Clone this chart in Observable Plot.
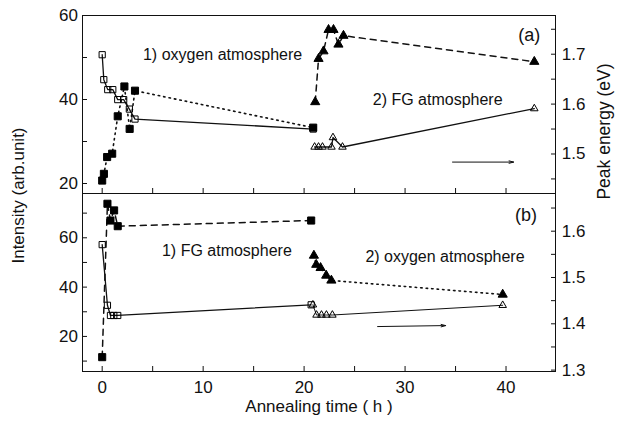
<!DOCTYPE html>
<html><head><meta charset="utf-8">
<script src="https://cdn.jsdelivr.net/npm/d3@7"></script>
<script src="https://cdn.jsdelivr.net/npm/@observablehq/plot@0.6"></script>
<style>
body{margin:0;background:#fff;}
#chart{position:relative;width:624px;height:432px;background:#fff;}
#chart svg{position:absolute;left:0;top:0;}
</style></head><body>
<div id="chart"></div>
<script>
// ---------- data ----------
const xTitle = "Annealing time ( h )";
const yLeftTitle = "Intensity (arb.unit)";
const yRightTitle = "Peak energy (eV)";
const timeTicks = [0, 10, 20, 30, 40];
const timeMinorTicks = [5, 15, 25, 35];
const timeDomain = [-1.95, 44.9];

// panel (a)
const aLeftDomain = [17.62, 60];
const aRightDomain = [1.4208, 1.7776];
const aLeftTicks = [20, 40, 60];
const aLeftMinor = [30, 50];
const aRightTicks = [1.5, 1.6, 1.7];
const aRightMinor = [1.45, 1.55, 1.65, 1.75];
const aFilledSqTime = [0, 0.17, 0.49, 0.99, 1.54, 2.2, 2.72, 3.25, 20.9];
const aFilledSqInt  = [20.7, 22.3, 26.3, 27.1, 36.0, 43.1, 33.0, 42.1, 33.3];
const aOpenSqTime   = [0, 0.16, 0.55, 1.05, 1.54, 2.13, 2.69, 3.25, 20.9];
const aOpenSqEnergy = [1.699, 1.649, 1.629, 1.629, 1.609, 1.609, 1.590, 1.570, 1.550];
const aFilledTriTime = [21.1, 21.43, 21.92, 22.42, 22.91, 23.4, 23.9, 42.8];
const aFilledTriInt  = [39.4, 49.7, 51.5, 56.6, 56.6, 53.1, 55.2, 49.0];
const aOpenTriTime   = [21.04, 21.43, 21.82, 22.71, 22.86, 23.8, 42.8];
const aOpenTriEnergy = [1.514, 1.514, 1.514, 1.514, 1.533, 1.514, 1.591];
const aLabels = ["1) oxygen atmosphere", "2) FG atmosphere", "(a)"];
const aLabelTime = [4.04, 26.8, 41.2];
const aLabelInt = [50.6, 39.9, 55.2];
const aArrowTime = [34.7, 40.75];
const aArrowInt = [25.1, 25.1];

// panel (b)
const bLeftDomain = [5.78, 77.96];
const bRightDomain = [1.297, 1.6814];
const bLeftTicks = [20, 40, 60];
const bLeftMinor = [10, 30, 50, 70];
const bRightTicks = [1.3, 1.4, 1.5, 1.6];
const bRightMinor = [1.35, 1.45, 1.55, 1.65];
const bFilledSqTime = [0, 0.52, 0.82, 1.18, 1.54, 20.7];
const bFilledSqInt  = [11.6, 73.8, 67.0, 71.1, 64.7, 67.0];
const bOpenSqTime   = [0, 0.52, 0.82, 1.15, 1.54, 20.7];
const bOpenSqEnergy = [1.571, 1.440, 1.418, 1.418, 1.418, 1.441];
const bFilledTriTime = [20.97, 21.2, 21.63, 22.19, 22.7, 39.67];
const bFilledTriInt  = [52.8, 49.1, 47.8, 44.7, 42.7, 37.0];
const bOpenTriTime   = [20.87, 21.23, 21.72, 22.21, 22.8, 39.67];
const bOpenTriEnergy = [1.441, 1.419, 1.419, 1.419, 1.419, 1.440];
const bLabels = ["1) FG atmosphere", "2) oxygen atmosphere", "(b)"];
const bLabelTime = [5.92, 26.07, 40.9];
const bLabelInt = [54.6, 52.1, 69.0];
const bArrowTime = [27.28, 34.02];
const bArrowInt = [24.0, 24.4];

// ---------- drawing ----------
const FONT = "'Liberation Sans', Arial, Helvetica, sans-serif";
const INK = "#111";

function panel(cfg) {
  const toLeft = d3.scaleLinear().domain(cfg.rightDomain).range(cfg.leftDomain);
  const marks = [];
  const rowsOf = s => s.t.map((t, i) => ({t, v: s.axis === "right" ? toLeft(s.v[i]) : s.v[i]}));
  for (const s of cfg.series) {
    marks.push(Plot.line(rowsOf(s), {x: "t", y: "v", stroke: INK, strokeWidth: s.w, strokeDasharray: s.dash}));
  }
  for (const s of cfg.series) {
    marks.push(Plot.dot(rowsOf(s), {x: "t", y: "v", symbol: s.symbol, r: s.r,
      fill: s.filled ? "#000" : "none", stroke: "#000", strokeWidth: 1}));
  }
  const labels = cfg.labels.map((text, i) => ({text, t: cfg.labelTime[i], v: cfg.labelInt[i], big: text.startsWith("(")}));
  marks.push(Plot.text(labels.filter(d => !d.big), {x: "t", y: "v", text: "text", textAnchor: "start", fontSize: 16, fill: INK}));
  marks.push(Plot.text(labels.filter(d => d.big), {x: "t", y: "v", text: "text", textAnchor: "start", fontSize: 18, fill: INK}));
  marks.push(Plot.arrow([0], {x1: () => cfg.arrowTime[0], x2: () => cfg.arrowTime[1],
    y1: () => cfg.arrowInt[0], y2: () => cfg.arrowInt[1], stroke: INK, strokeWidth: 1, headLength: 7, headAngle: 30}));
  // axes (ticks inward)
  marks.push(Plot.axisY(cfg.leftTicks, {anchor: "left", tickSize: -5, tickPadding: 9.5, label: null, tickFormat: d3.format("d")}));
  marks.push(Plot.axisY(cfg.leftMinor, {anchor: "left", tickSize: -5, tickFormat: () => "", label: null}));
  marks.push(Plot.axisY(cfg.rightTicks.map(toLeft), {anchor: "right", tickSize: -5, tickPadding: 11.3, label: null,
    tickFormat: d => toLeft.invert(d).toFixed(1)}));
  marks.push(Plot.axisY(cfg.rightMinor.map(toLeft), {anchor: "right", tickSize: -5, tickFormat: () => "", label: null}));
  marks.push(Plot.axisX(timeTicks, {anchor: "bottom", tickSize: -5, tickPadding: 14, label: null,
    tickFormat: cfg.xLabels ? d3.format("d") : () => ""}));
  marks.push(Plot.axisX(timeMinorTicks, {anchor: "bottom", tickSize: -5, tickFormat: () => "", label: null}));
  marks.push(Plot.frame({stroke: INK, strokeWidth: 1}));
  if (cfg.extra) marks.push(...cfg.extra);
  return Plot.plot({
    width: 624, height: 432,
    marginTop: cfg.top, marginBottom: 432 - cfg.bottom, marginLeft: 82, marginRight: 69,
    x: {domain: timeDomain},
    y: {domain: cfg.leftDomain},
    style: {background: "transparent", fontFamily: FONT, fontSize: "17px", color: INK, overflow: "visible"},
    marks
  });
}

const topPanel = panel({
  top: 15, bottom: 193,
  leftDomain: aLeftDomain, rightDomain: aRightDomain,
  leftTicks: aLeftTicks, leftMinor: aLeftMinor, rightTicks: aRightTicks, rightMinor: aRightMinor,
  series: [
    {t: aFilledSqTime, v: aFilledSqInt, axis: "left", symbol: "square", r: 4, filled: true, w: 1.6, dash: "1.5,4"},
    {t: aOpenSqTime, v: aOpenSqEnergy, axis: "right", symbol: "square", r: 3.5, filled: false, w: 1.3, dash: null},
    {t: aFilledTriTime, v: aFilledTriInt, axis: "left", symbol: "triangle", r: 3.4, filled: true, w: 1.5, dash: "6,5"},
    {t: aOpenTriTime, v: aOpenTriEnergy, axis: "right", symbol: "triangle", r: 2.8, filled: false, w: 1.3, dash: null}
  ],
  labels: aLabels, labelTime: aLabelTime, labelInt: aLabelInt,
  arrowTime: aArrowTime, arrowInt: aArrowInt,
  xLabels: false
});

const bottomPanel = panel({
  top: 193, bottom: 371,
  leftDomain: bLeftDomain, rightDomain: bRightDomain,
  leftTicks: bLeftTicks, leftMinor: bLeftMinor, rightTicks: bRightTicks, rightMinor: bRightMinor,
  series: [
    {t: bFilledSqTime, v: bFilledSqInt, axis: "left", symbol: "square", r: 4, filled: true, w: 1.5, dash: "6,5"},
    {t: bOpenSqTime, v: bOpenSqEnergy, axis: "right", symbol: "square", r: 3.5, filled: false, w: 1.3, dash: null},
    {t: bFilledTriTime, v: bFilledTriInt, axis: "left", symbol: "triangle", r: 3.4, filled: true, w: 1.6, dash: "1.5,4"},
    {t: bOpenTriTime, v: bOpenTriEnergy, axis: "right", symbol: "triangle", r: 2.8, filled: false, w: 1, dash: null}
  ],
  labels: bLabels, labelTime: bLabelTime, labelInt: bLabelInt,
  arrowTime: bArrowTime, arrowInt: bArrowInt,
  xLabels: true,
  extra: [
    Plot.text([xTitle], {frameAnchor: "bottom", dy: 40, text: d => d, fontSize: 17, fill: INK}),
    Plot.text([yLeftTitle], {frameAnchor: "left", dx: -64, dy: -87, rotate: -90, textAnchor: "middle", text: d => d, fontSize: 17, fill: INK}),
    Plot.text([yRightTitle], {frameAnchor: "right", dx: 49, dy: -151, rotate: -90, textAnchor: "middle", text: d => d, fontSize: 17.5, fill: INK})
  ]
});

const chart = document.getElementById("chart");
chart.appendChild(topPanel);
chart.appendChild(bottomPanel);
</script>
</body></html>
